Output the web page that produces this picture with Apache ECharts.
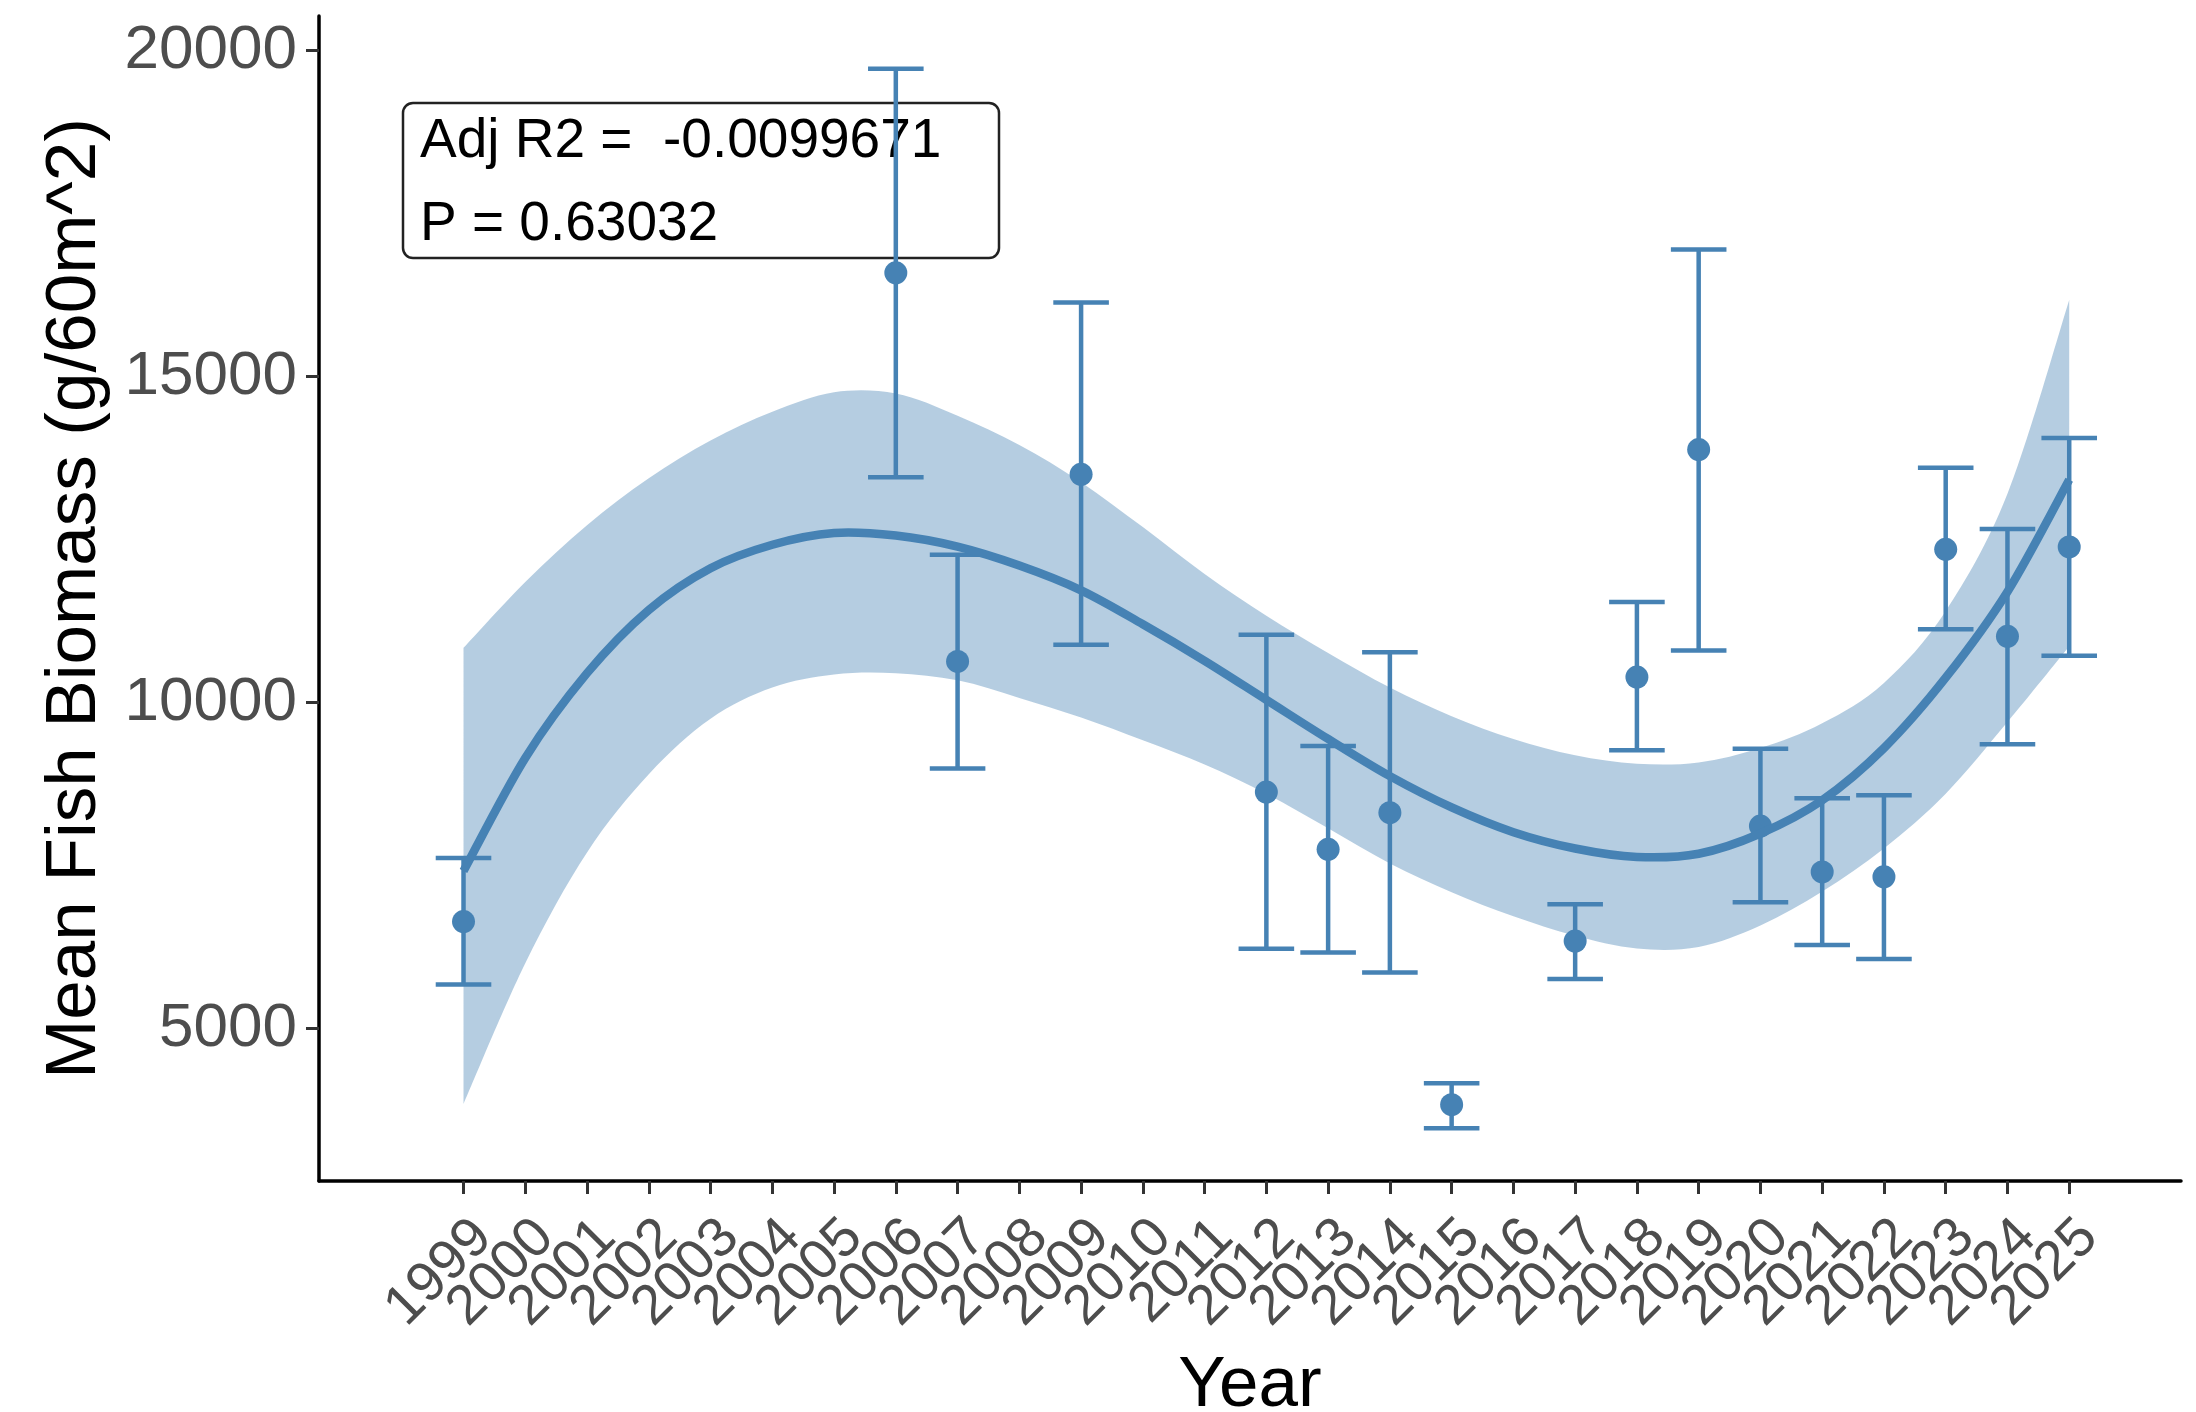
<!DOCTYPE html>
<html>
<head>
<meta charset="utf-8">
<script src="https://cdn.jsdelivr.net/npm/echarts@6/dist/echarts.min.js"></script>
<style>
html,body{margin:0;padding:0;background:#ffffff;}
#chart{width:2196px;height:1412px;}
</style>
</head>
<body>
<div id="chart"></div>
<script>
// ---- data ----
const obsYears  = [1999, 2006, 2007, 2009, 2012, 2013, 2014, 2015, 2017, 2018, 2019, 2020, 2021, 2022, 2023, 2024, 2025];
const obsMean   = [6640, 16590, 10630, 13500, 8626, 7747, 8310, 3830, 6340, 10390, 13880, 8105, 7400, 7325, 12350, 11015, 12386];
const obsUpper  = [7614, 19720, 12268, 16137, 11040, 9333, 10770, 4160, 6905, 11540, 16950, 9290, 8530, 8578, 13600, 12662, 14056];
const obsLower  = [5675, 13455, 8986, 10885, 6223, 6165, 5860, 3470, 5760, 9267, 10796, 6935, 6280, 6065, 11125, 9360, 10718];

const fitYears  = [1999,2000,2001,2002,2003,2004,2005,2006,2007,2008,2009,2010,2011,2012,2013,2014,2015,2016,2017,2018,2019,2020,2021,2022,2023,2024,2025];
const fitValue  = [7415,9150,10450,11420,12060,12420,12600,12560,12390,12100,11720,11200,10640,10040,9440,8870,8390,8010,7760,7630,7680,7990,8500,9300,10380,11700,13417];
const ciUpper   = [10838,11850,12720,13440,14020,14460,14760,14740,14400,13950,13380,12690,11970,11330,10760,10230,9790,9440,9190,9060,9080,9300,9680,10300,11400,13200,16175];
const ciLower   = [3840,6000,7700,8900,9750,10230,10430,10450,10340,10070,9770,9420,9050,8600,8070,7530,7090,6720,6420,6225,6250,6580,7100,7760,8600,9700,10863];

const yearTicks = [1999,2000,2001,2002,2003,2004,2005,2006,2007,2008,2009,2010,2011,2012,2013,2014,2015,2016,2017,2018,2019,2020,2021,2022,2023,2024,2025];
const valueTicks = [5000, 10000, 15000, 20000];

const annotationLines = ['Adj R2 =  -0.0099671', 'P = 0.63032'];

// ---- styles ----
const BLUE = '#4682B4';
const FONT = '"Liberation Sans", Arial, Helvetica, sans-serif';
const CAP_WIDTH = 0.9; // error bar cap width in years
const X_MIN = 1996.66, X_MAX = 2026.81;

// Catmull-Rom spline through pixel points -> SVG path data
function splinePath(pts, start) {
  let d = (start ? 'M' : 'L') + pts[0][0] + ' ' + pts[0][1];
  for (let i = 0; i < pts.length - 1; i++) {
    const p0 = pts[i - 1] || pts[i];
    const p1 = pts[i], p2 = pts[i + 1];
    const p3 = pts[i + 2] || pts[i + 1];
    const c1x = p1[0] + (p2[0] - p0[0]) / 6, c1y = p1[1] + (p2[1] - p0[1]) / 6;
    const c2x = p2[0] - (p3[0] - p1[0]) / 6, c2y = p2[1] - (p3[1] - p1[1]) / 6;
    d += ' C' + c1x + ' ' + c1y + ' ' + c2x + ' ' + c2y + ' ' + p2[0] + ' ' + p2[1];
  }
  return d;
}

// The rotated year labels overlap their neighbours; split them over three
// coincident x axes so ECharts does not drop any of them.
function xAxisFor(ticks, primary) {
  const ax = {
    type: 'value', gridIndex: 0, position: 'bottom', offset: 0,
    min: X_MIN, max: X_MAX,
    axisLine: {show: primary, onZero: false, lineStyle: {color: '#000000', width: 3.5}},
    axisTick: {show: true, customValues: ticks, length: 13, lineStyle: {color: '#333333', width: 3}},
    axisLabel: {
      show: true, customValues: ticks, rotate: 45, interval: 0,
      showMinLabel: true, showMaxLabel: true, hideOverlap: false,
      align: 'right', verticalAlign: 'top', margin: 28,
      fontSize: 56, color: '#4d4d4d', fontFamily: FONT,
      formatter: v => String(v)
    },
    splitLine: {show: false}
  };
  if (primary) {
    ax.name = 'Year';
    ax.nameLocation = 'middle';
    ax.nameGap = 170;
    ax.nameTextStyle = {fontSize: 71, color: '#000000', fontFamily: FONT};
  }
  return ax;
}
const tickGroups = [0, 1, 2].map(k => yearTicks.filter((y, i) => i % 3 === k));

const chart = echarts.init(document.getElementById('chart'), null, {renderer: 'canvas'});

const option = {
  backgroundColor: '#ffffff',
  animation: false,
  grid: {left: 319, right: 15, top: 16, bottom: 231, containLabel: false, outerBoundsMode: 'none'},
  xAxis: [xAxisFor(tickGroups[0], true), xAxisFor(tickGroups[1], false), xAxisFor(tickGroups[2], false)],
  yAxis: {
    type: 'value',
    min: 2660,
    max: 20530,
    name: 'Mean Fish Biomass (g/60m^2)',
    nameLocation: 'middle',
    nameGap: 208,
    nameTextStyle: {fontSize: 71, color: '#000000', fontFamily: FONT},
    axisLine: {show: true, onZero: false, lineStyle: {color: '#000000', width: 3.5}},
    axisTick: {show: true, customValues: valueTicks, length: 13, lineStyle: {color: '#333333', width: 3}},
    axisLabel: {
      show: true, customValues: valueTicks, margin: 22,
      showMinLabel: true, showMaxLabel: true,
      fontSize: 62, color: '#4d4d4d', fontFamily: FONT,
      formatter: v => String(v)
    },
    splitLine: {show: false}
  },
  series: [
    {
      name: 'ci-band', type: 'custom', silent: true, z: 1, xAxisIndex: 0,
      data: fitYears.map((y, i) => [y, ciLower[i], ciUpper[i]]),
      encode: {x: 0, y: [1, 2]},
      renderItem: function (params, api) {
        if (params.dataIndex !== 0) return null;
        const up = fitYears.map((y, i) => api.coord([y, ciUpper[i]]));
        const lo = fitYears.map((y, i) => api.coord([y, ciLower[i]])).reverse();
        const d = splinePath(up, true) + ' ' + splinePath(lo, false) + ' Z';
        return {type: 'path', shape: {pathData: d}, style: {fill: 'rgba(70,130,180,0.4)', stroke: null}};
      }
    },
    {
      name: 'errorbars', type: 'custom', silent: true, z: 3, xAxisIndex: 0,
      data: obsYears.map((y, i) => [y, obsLower[i], obsUpper[i]]),
      encode: {x: 0, y: [1, 2]},
      renderItem: function (params, api) {
        const x = api.value(0);
        const lo = api.coord([x, api.value(1)]);
        const hi = api.coord([x, api.value(2)]);
        const half = api.size([CAP_WIDTH, 0])[0] / 2;
        const st = {stroke: BLUE, lineWidth: 4.5, fill: null};
        return {
          type: 'group',
          children: [
            {type: 'line', shape: {x1: lo[0], y1: lo[1], x2: hi[0], y2: hi[1]}, style: st},
            {type: 'line', shape: {x1: hi[0] - half, y1: hi[1], x2: hi[0] + half, y2: hi[1]}, style: st},
            {type: 'line', shape: {x1: lo[0] - half, y1: lo[1], x2: lo[0] + half, y2: lo[1]}, style: st}
          ]
        };
      }
    },
    {
      name: 'mean', type: 'scatter', symbol: 'circle', symbolSize: 23, silent: true, z: 4, xAxisIndex: 0,
      data: obsYears.map((y, i) => [y, obsMean[i]]),
      itemStyle: {color: BLUE, opacity: 1}
    },
    {
      name: 'fit', type: 'custom', silent: true, z: 5, xAxisIndex: 0,
      data: fitYears.map((y, i) => [y, fitValue[i]]),
      encode: {x: 0, y: 1},
      renderItem: function (params, api) {
        if (params.dataIndex !== 0) return null;
        const pts = fitYears.map((y, i) => api.coord([y, fitValue[i]]));
        return {type: 'path', shape: {pathData: splinePath(pts, true)},
                style: {fill: null, stroke: BLUE, lineWidth: 8.5, lineCap: 'butt', lineJoin: 'round'}};
      }
    }
  ],
  graphic: [
    {
      type: 'group', x: 403, y: 103, z: 100,
      children: [
        {type: 'rect', shape: {x: 0, y: 0, width: 596, height: 155, r: 10},
         style: {fill: '#ffffff', stroke: '#222222', lineWidth: 2.5}},
        {type: 'text', x: 17, y: 39,
         style: {text: annotationLines[0], fill: '#000000', fontSize: 55, fontFamily: FONT, verticalAlign: 'middle', align: 'left'}},
        {type: 'text', x: 17, y: 122,
         style: {text: annotationLines[1], fill: '#000000', fontSize: 55, fontFamily: FONT, verticalAlign: 'middle', align: 'left'}}
      ]
    }
  ]
};

chart.setOption(option);
</script>
</body>
</html>
